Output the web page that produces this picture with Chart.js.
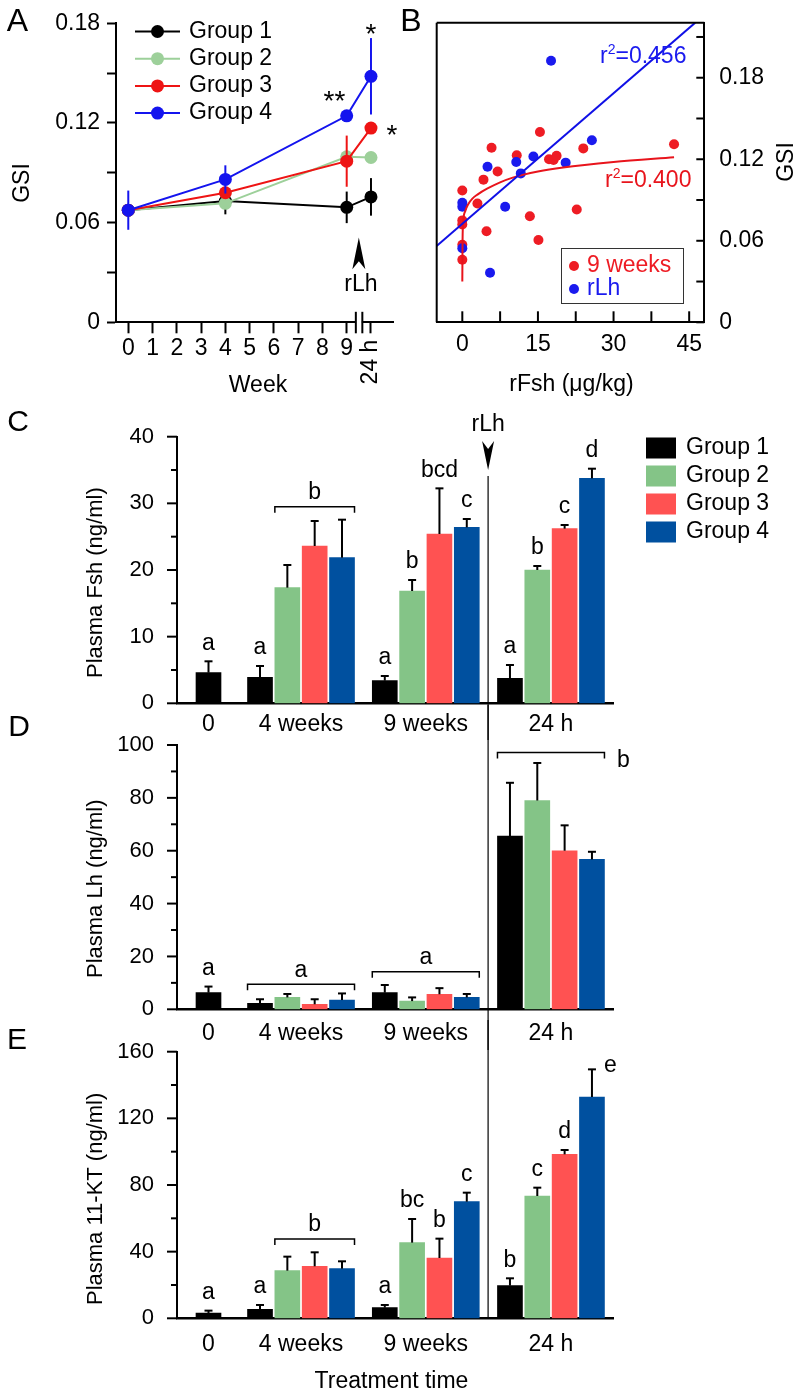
<!DOCTYPE html>
<html lang="en">
<head>
<meta charset="utf-8">
<title>GSI and plasma hormones</title>
<script src="https://cdn.jsdelivr.net/npm/chart.js@4.4.1/dist/chart.umd.min.js"></script>
<style>
  html, body { margin: 0; padding: 0; background: #fff; }
  #figure { position: relative; width: 800px; height: 1394px; overflow: hidden; }
  #figure canvas { position: absolute; left: 0; }
</style>
</head>
<body>
<div id="figure">
  <canvas id="panelA" width="800" height="400" style="top:0px"></canvas>
  <canvas id="panelB" width="800" height="400" style="top:0px"></canvas>
  <canvas id="panelC" width="800" height="370" style="top:370px"></canvas>
  <canvas id="panelD" width="800" height="345" style="top:705px"></canvas>
  <canvas id="panelE" width="800" height="374" style="top:1020px"></canvas>
</div>
<script>
// ---------- data ----------
const groupNames = ["Group 1", "Group 2", "Group 3", "Group 4"];

// A: GSI, the 24 h point sits after the axis break at x = 10
const gsiWeeks = [0, 4, 9, 10];
const gsiWeekTicks = [0, 1, 2, 3, 4, 5, 6, 7, 8, 9, 10];
const gsiTicks = [0, 0.03, 0.06, 0.09, 0.12, 0.15, 0.18];
const gsiMeans = [
  [0.0675, 0.073, 0.0692, 0.0755],
  [0.0675, 0.0716, 0.0996, 0.0992],
  [0.0675, 0.078, 0.097, 0.1169],
  [0.0675, 0.086, 0.1243, 0.1481],
];
const gsiErrors = [
  [null, 0.008, 0.0095, 0.0113],
  [null, null, null, null],
  [null, null, 0.0154, null],
  [0.0118, 0.0085, null, 0.023],
];

// B: GSI against rFsh dose
const rfsh9Weeks = [
  [0, 0.097], [0, 0.075], [0, 0.072], [0, 0.057], [0, 0.046],
  [3.0, 0.0875], [4.2, 0.105], [4.8, 0.067], [5.8, 0.1285], [7.0, 0.111],
  [10.8, 0.123], [13.4, 0.078], [15.4, 0.14], [15.1, 0.0606], [17.2, 0.12],
  [18.1, 0.1195], [18.7, 0.1225], [22.7, 0.083], [24.0, 0.128], [42.0, 0.131],
];
const rfshRlh = [
  [0, 0.088], [0, 0.085], [0, 0.0545], [5.0, 0.1145], [5.5, 0.0365],
  [8.5, 0.085], [10.7, 0.118], [11.6, 0.1096], [14.1, 0.122], [17.6, 0.1925],
  [20.5, 0.1175], [25.7, 0.134],
];
const rlhFit = [[-5.1, 0.0562], [46.2, 0.2205]];
const weeks9Fit = [
  [0, 0.03], [0.05, 0.06], [0.2, 0.075], [0.6, 0.082], [1.2, 0.087], [2, 0.091],
  [3, 0.094], [5, 0.0985], [7.5, 0.103], [10, 0.1065], [15, 0.111], [20, 0.114],
  [30, 0.118], [42, 0.1215],
];
const doseTicks = [0, 7.5, 15, 22.5, 30, 37.5, 45];
const gsiRightTicks = [0, 0.03, 0.06, 0.09, 0.12, 0.15, 0.18, 0.21];

// C-E: plasma hormones
const timeLabels = ["0", "4 weeks", "9 weeks", "24 h"];

const fshMeans = [
  [4.6, 3.9, 3.4, 3.75],
  [null, 17.35, 16.85, 20.0],
  [null, 23.6, 25.4, 26.2],
  [null, 21.85, 26.4, 33.75],
];
const fshErrors = [
  [1.7, 1.7, 0.7, 2.0],
  [null, 3.4, 1.65, 0.6],
  [null, 3.75, 6.85, 0.55],
  [null, 5.7, 1.25, 1.45],
];
const fshLetters = [
  ["a", "a", "a", "a"],
  [null, null, "b", "b"],
  [null, null, "bcd", "c"],
  [null, null, "c", "d"],
];
const fshBrackets = [{ time: 1, from: 1, to: 3, y: 29.5, letter: "b" }];
const fshTicks = [0, 5, 10, 15, 20, 25, 30, 35, 40];

const lhMeans = [
  [6.3, 2.3, 6.3, 65.5],
  [null, 4.5, 3.1, 79.0],
  [null, 1.9, 5.7, 60.0],
  [null, 3.5, 4.5, 56.7],
];
const lhErrors = [
  [2.3, 1.5, 2.9, 20.2],
  [null, 1.3, 1.4, 14.2],
  [null, 1.9, 2.3, 9.6],
  [null, 2.5, 1.3, 2.9],
];
const lhLetters = [
  ["a", null, null, null],
  [null, null, null, null],
  [null, null, null, null],
  [null, null, null, null],
];
const lhBrackets = [
  { time: 1, from: 0, to: 3, y: 9.45, letter: "a" },
  { time: 2, from: 0, to: 3, y: 14.2, letter: "a" },
  { time: 3, from: 0, to: 3, y: 97.2, letter: "b", side: true },
];
const lhTicks = [0, 10, 20, 30, 40, 50, 60, 70, 80, 90, 100];

const ktMeans = [
  [3.2, 5.4, 6.4, 19.6],
  [null, 28.6, 45.4, 73.4],
  [null, 31.2, 36.2, 98.4],
  [null, 29.8, 70.0, 132.8],
];
const ktErrors = [
  [1.4, 2.6, 1.6, 4.4],
  [null, 8.4, 14.2, 5.0],
  [null, 8.4, 11.6, 2.6],
  [null, 4.4, 5.4, 16.6],
];
const ktLetters = [
  ["a", "a", "a", "b"],
  [null, null, "bc", "c"],
  [null, null, "b", "d"],
  [null, null, "c", null],
];
const ktSideLetters = [{ time: 3, group: 3, letter: "e" }];
const ktBrackets = [{ time: 1, from: 1, to: 3, y: 47.6, letter: "b" }];
const ktTicks = [0, 20, 40, 60, 80, 100, 120, 140, 160];

// ---------- look ----------
const FONT_FAMILY = '"Liberation Sans", Arial, Helvetica, sans-serif';
const fontOf = (size) => ({ family: FONT_FAMILY, size });
const cssFont = (size) => `${size}px ${FONT_FAMILY}`;

const lineColors = ["#000000", "#9dd09a", "#ee1414", "#1414ee"];
const barColors = ["#000000", "#84c487", "#ff5252", "#00509f"];
const dotRed = "#ee1c24";
const dotBlue = "#1a1aee";

// bar geometry, in bar slots (one slot = one bar step)
const timeCenters = [0, 3.385, 7.95, 12.53];
const rlhSlot = 10.23;
const barSlot = (t, g) => (t === 0 ? timeCenters[0] : timeCenters[t] + (g - 1.5));

Chart.defaults.font.family = FONT_FAMILY;
Chart.defaults.color = "#000";

function strokeLine(ctx, x1, y1, x2, y2) {
  ctx.beginPath();
  ctx.moveTo(x1, y1);
  ctx.lineTo(x2, y2);
  ctx.stroke();
}

function drawText(ctx, str, x, y, size, opts = {}) {
  ctx.save();
  ctx.font = cssFont(size);
  ctx.fillStyle = opts.color || "#000";
  ctx.textAlign = opts.align || "center";
  ctx.textBaseline = opts.baseline || "middle";
  ctx.translate(x, y);
  if (opts.rotate) ctx.rotate(opts.rotate);
  ctx.fillText(str, 0, 0);
  ctx.restore();
}

function drawR2(ctx, value, x, baseline, color) {
  ctx.save();
  ctx.fillStyle = color;
  ctx.textAlign = "left";
  ctx.textBaseline = "alphabetic";
  ctx.font = cssFont(23);
  ctx.fillText("r", x, baseline);
  let cx = x + ctx.measureText("r").width;
  ctx.font = cssFont(14);
  ctx.fillText("2", cx, baseline - 9);
  cx += ctx.measureText("2").width;
  ctx.font = cssFont(23);
  ctx.fillText("=" + value, cx, baseline);
  ctx.restore();
}

const baseOptions = {
  responsive: false,
  animation: false,
  events: [],
  plugins: { legend: { display: false }, tooltip: { enabled: false } },
};

// ---------- A ----------
const gsiExtras = {
  id: "gsiExtras",
  afterDatasetDraw(chart, args) {
    const g = args.index;
    const { ctx, scales: { x: xs, y: ys } } = chart;
    ctx.save();
    ctx.strokeStyle = lineColors[g];
    ctx.lineWidth = 2;
    gsiWeeks.forEach((w, i) => {
      const err = gsiErrors[g][i];
      if (err == null) return;
      const px = xs.getPixelForValue(w);
      strokeLine(ctx, px, ys.getPixelForValue(gsiMeans[g][i] - err), px, ys.getPixelForValue(gsiMeans[g][i] + err));
    });
    ctx.restore();
  },
  afterDraw(chart) {
    const { ctx, scales: { x: xs, y: ys }, chartArea } = chart;
    ctx.save();

    // axis break between week 9 and 24 h
    const bx = xs.getPixelForValue(9.5);
    ctx.fillStyle = "#fff";
    ctx.fillRect(bx - 3, chartArea.bottom - 3, 6, 6);
    ctx.strokeStyle = "#000";
    ctx.lineWidth = 2;
    strokeLine(ctx, bx - 3, chartArea.bottom - 10.5, bx - 3, chartArea.bottom + 11);
    strokeLine(ctx, bx + 3.5, chartArea.bottom - 10.5, bx + 3.5, chartArea.bottom + 11);

    // legend
    groupNames.forEach((name, g) => {
      const y = 31.5 + g * 27.2;
      ctx.strokeStyle = lineColors[g];
      ctx.fillStyle = lineColors[g];
      strokeLine(ctx, 135, y, 180, y);
      ctx.beginPath();
      ctx.arc(157.5, y, 6.5, 0, Math.PI * 2);
      ctx.fill();
      drawText(ctx, name, 189, y, 23, { align: "left" });
    });

    // rLh arrow
    const ax = xs.getPixelForValue(9.5);
    const tip = ys.getPixelForValue(0.051);
    const base = ys.getPixelForValue(0.032);
    ctx.fillStyle = "#000";
    ctx.beginPath();
    ctx.moveTo(ax, tip);
    ctx.lineTo(ax + 6.5, base);
    ctx.lineTo(ax, base - 8);
    ctx.lineTo(ax - 6.5, base);
    ctx.closePath();
    ctx.fill();
    drawText(ctx, "rLh", ax + 2, base + 16, 23);

    // significance stars
    drawText(ctx, "**", 334.5, 110, 28, { baseline: "alphabetic" });
    drawText(ctx, "*", 371, 43, 28, { baseline: "alphabetic" });
    drawText(ctx, "*", 392, 144, 28, { baseline: "alphabetic" });

    // labels
    drawText(ctx, "24 h", xs.getPixelForValue(10), 362, 23, { rotate: -Math.PI / 2 });
    drawText(ctx, "Week", 258, 386, 23);
    drawText(ctx, "GSI", 22.5, 183, 23, { rotate: -Math.PI / 2 });
    drawText(ctx, "A", 17.5, 22, 32);
    ctx.restore();
  },
};

new Chart(document.getElementById("panelA"), {
  type: "line",
  data: {
    datasets: gsiMeans.map((means, g) => ({
      label: groupNames[g],
      data: gsiWeeks.map((w, i) => ({ x: w, y: means[i] })),
      borderColor: lineColors[g],
      backgroundColor: lineColors[g],
      borderWidth: 2,
      pointRadius: 6.5,
      pointBorderWidth: 0,
      order: 3 - g,
    })),
  },
  options: {
    ...baseOptions,
    layout: { padding: { left: 0, top: 23.3, right: 406.7, bottom: 0 } },
    scales: {
      x: {
        type: "linear", min: -0.506, max: 10.92, offset: false,
        afterBuildTicks: (s) => { s.ticks = gsiWeekTicks.map((value) => ({ value })); },
        afterFit: (s) => { s.height = 77.7; },
        ticks: { callback: (v) => (v === 10 ? "" : String(v)), font: fontOf(23), padding: 2, autoSkip: false, maxRotation: 0 },
        grid: { drawOnChartArea: false, tickLength: 11, tickWidth: 2, tickColor: "#000" },
        border: { color: "#000", width: 2 },
      },
      y: {
        min: 0, max: 0.18,
        afterBuildTicks: (s) => { s.ticks = gsiTicks.map((value) => ({ value })); },
        afterFit: (s) => { s.width = 116; },
        ticks: { callback: (v, i) => (i % 2 ? "" : v === 0 ? "0" : v.toFixed(2)), font: fontOf(23), padding: 7 },
        grid: { drawOnChartArea: false, tickLength: 9, tickWidth: 2, tickColor: "#000" },
        border: { color: "#000", width: 2 },
      },
    },
  },
  plugins: [gsiExtras],
});

// ---------- B ----------
const doseExtras = {
  id: "doseExtras",
  afterDraw(chart) {
    const { ctx, scales: { x: xs, y: ys }, chartArea } = chart;
    ctx.save();
    ctx.strokeStyle = "#000";
    ctx.lineWidth = 2;
    strokeLine(ctx, chartArea.left, chartArea.top, chartArea.right, chartArea.top);
    strokeLine(ctx, chartArea.left, chartArea.top, chartArea.left, chartArea.bottom);
    gsiRightTicks.forEach((v) => {
      const py = ys.getPixelForValue(v);
      strokeLine(ctx, chartArea.right - 8, py, chartArea.right, py);
    });
    doseTicks.forEach((v) => {
      const px = xs.getPixelForValue(v);
      strokeLine(ctx, px, chartArea.bottom - 11, px, chartArea.bottom);
    });

    // legend box
    ctx.lineWidth = 1;
    ctx.strokeStyle = "#333";
    ctx.strokeRect(561.5, 248.5, 122, 55);
    [["9 weeks", dotRed, 266], ["rLh", dotBlue, 289]].forEach(([name, color, y]) => {
      ctx.fillStyle = color;
      ctx.beginPath();
      ctx.arc(574, y, 5, 0, Math.PI * 2);
      ctx.fill();
      drawText(ctx, name, 587, y, 23, { align: "left", color });
    });

    drawR2(ctx, "0.456", 600, 63, dotBlue);
    drawR2(ctx, "0.400", 605, 187, "#e8141c");

    drawText(ctx, "rFsh (\u03bcg/kg)", 571.5, 385, 23);
    drawText(ctx, "GSI", 787, 162, 23, { rotate: -Math.PI / 2 });
    drawText(ctx, "B", 411, 22, 32);
    ctx.restore();
  },
};

const toPoints = (pairs) => pairs.map(([x, y]) => ({ x, y }));

new Chart(document.getElementById("panelB"), {
  type: "scatter",
  data: {
    datasets: [
      { label: "rLh fit", data: toPoints(rlhFit), showLine: true, borderColor: "#1010e6", borderWidth: 2, pointRadius: 0, order: 0 },
      { label: "9 weeks fit", data: toPoints(weeks9Fit), showLine: true, borderColor: "#e8141c", borderWidth: 2, pointRadius: 0, cubicInterpolationMode: "monotone", order: 0 },
      { label: "rLh", data: toPoints(rfshRlh), backgroundColor: dotBlue, pointRadius: 5, pointBorderWidth: 0, order: 1 },
      { label: "9 weeks", data: toPoints(rfsh9Weeks), backgroundColor: dotRed, pointRadius: 5, pointBorderWidth: 0, order: 2 },
    ],
  },
  options: {
    ...baseOptions,
    layout: { padding: { left: 436.7, top: 22.7, right: 0, bottom: 0 } },
    scales: {
      x: {
        type: "linear", min: -5.08, max: 48.0,
        afterBuildTicks: (s) => { s.ticks = doseTicks.map((value) => ({ value })); },
        afterFit: (s) => { s.height = 77.7; },
        ticks: { callback: (v) => (v % 15 === 0 ? String(v) : ""), font: fontOf(23), padding: 1, autoSkip: false, maxRotation: 0 },
        grid: { display: false },
        border: { color: "#000", width: 2 },
      },
      y: {
        position: "right", min: 0, max: 0.2205,
        afterBuildTicks: (s) => { s.ticks = gsiRightTicks.map((value) => ({ value })); },
        afterFit: (s) => { s.width = 95.7; },
        ticks: { callback: (v, i) => (i % 2 ? "" : v === 0 ? "0" : v.toFixed(2)), font: fontOf(23), padding: 7 },
        grid: { display: false },
        border: { color: "#000", width: 2 },
      },
    },
  },
  plugins: [doseExtras],
});

// ---------- C-E ----------
const RLH_LINE = { top: 476, bottom: 1318.3 };

function makeBarPanel(p) {
  const canvas = document.getElementById(p.id);
  const local = (pageY) => pageY - p.top;

  const datasets = p.means.map((row, g) => ({
    label: groupNames[g],
    data: row
      .map((v, t) => (v == null ? null : { x: barSlot(t, g), y: v, err: p.errors[g][t], letter: p.letters[g][t] }))
      .filter((d) => d !== null),
    backgroundColor: barColors[g],
    borderWidth: 0,
    barThickness: 25,
    grouped: false,
  }));

  const extras = {
    id: "barExtras",
    afterDatasetsDraw(chart) {
      const { ctx, scales: { x: xs, y: ys }, chartArea } = chart;
      ctx.save();
      ctx.strokeStyle = "#000";
      ctx.lineWidth = 2;

      p.yTicks.forEach((v) => {
        const py = ys.getPixelForValue(v);
        strokeLine(ctx, chartArea.left - (v % p.yMajor === 0 ? 10 : 6), py, chartArea.left, py);
      });

      chart.data.datasets.forEach((ds, g) => {
        const meta = chart.getDatasetMeta(g);
        ds.data.forEach((d, j) => {
          const bx = meta.data[j].x;
          const top = ys.getPixelForValue(d.y + d.err);
          ctx.lineWidth = 2;
          strokeLine(ctx, bx, ys.getPixelForValue(d.y), bx, top);
          strokeLine(ctx, bx - 4, top, bx + 4, top);
          if (d.letter) drawText(ctx, d.letter, bx, top - 18, 23);
        });
      });

      (p.sideLetters || []).forEach((s) => {
        const bx = xs.getPixelForValue(barSlot(s.time, s.group));
        const top = ys.getPixelForValue(p.means[s.group][s.time] + p.errors[s.group][s.time]);
        drawText(ctx, s.letter, bx + 18.5, top - 4, 23);
      });

      ctx.lineWidth = 1.5;
      p.brackets.forEach((b) => {
        const x1 = xs.getPixelForValue(barSlot(b.time, b.from)) - 12.5;
        const x2 = xs.getPixelForValue(barSlot(b.time, b.to)) + 12.5;
        const y = ys.getPixelForValue(b.y);
        ctx.beginPath();
        ctx.moveTo(x1, y + 6);
        ctx.lineTo(x1, y);
        ctx.lineTo(x2, y);
        ctx.lineTo(x2, y + 6);
        ctx.stroke();
        if (b.side) drawText(ctx, b.letter, x2 + 19, y + 8, 23);
        else drawText(ctx, b.letter, (x1 + x2) / 2, y - 14, 23);
      });

      // rLh injection line running through C, D and E
      const lx = xs.getPixelForValue(rlhSlot);
      ctx.lineWidth = 1.2;
      strokeLine(ctx, lx, Math.max(local(RLH_LINE.top), 0), lx, Math.min(local(RLH_LINE.bottom), canvas.height));

      drawText(ctx, p.title, 96, local(p.titleBottom), 22, { rotate: -Math.PI / 2, align: "left" });
      drawText(ctx, p.label, p.labelAt[0], local(p.labelAt[1]), 30);
      if (p.extra) p.extra(chart, ctx, local);
      ctx.restore();
    },
  };

  return new Chart(canvas, {
    type: "bar",
    data: { datasets },
    options: {
      ...baseOptions,
      layout: { padding: { left: 0, top: local(p.plotTop), right: 187, bottom: 0 } },
      scales: {
        x: {
          type: "linear", min: -1.1526, max: 14.8, offset: false,
          afterBuildTicks: (s) => { s.ticks = timeCenters.map((value) => ({ value })); },
          afterFit: (s) => { s.height = canvas.height - local(p.plotBottom); },
          ticks: { callback: (v, i) => timeLabels[i], font: fontOf(23), padding: p.labelGap, autoSkip: false, maxRotation: 0 },
          grid: { display: false },
          border: { color: "#000", width: 2.5 },
        },
        y: {
          min: 0, max: p.yTicks[p.yTicks.length - 1],
          afterBuildTicks: (s) => { s.ticks = p.yTicks.map((value) => ({ value })); },
          afterFit: (s) => { s.width = 177; },
          ticks: { callback: (v) => (v % p.yMajor === 0 ? String(v) : ""), font: fontOf(22), padding: 15 },
          grid: { display: false },
          border: { color: "#000", width: 2 },
        },
      },
    },
    plugins: [extras],
  });
}

function fshExtras(chart, ctx, local) {
  const { scales: { x: xs, y: ys } } = chart;
  const ax = xs.getPixelForValue(rlhSlot);
  const tip = ys.getPixelForValue(35.0);
  const base = ys.getPixelForValue(39.35);
  ctx.fillStyle = "#000";
  ctx.beginPath();
  ctx.moveTo(ax, tip);
  ctx.lineTo(ax + 6, base);
  ctx.lineTo(ax, base + 8);
  ctx.lineTo(ax - 6, base);
  ctx.closePath();
  ctx.fill();
  drawText(ctx, "rLh", ax, base - 16, 23);

  groupNames.forEach((name, g) => {
    const top = local(437.5 + g * 28);
    ctx.fillStyle = barColors[g];
    ctx.fillRect(646, top, 30, 21);
    drawText(ctx, name, 686, top + 10.5, 23, { align: "left" });
  });
}

function ktExtras(chart, ctx, local) {
  drawText(ctx, "Treatment time", 391.5, local(1381.7), 23);
}

makeBarPanel({
  id: "panelC", top: 370, plotTop: 436.7, plotBottom: 703.3, labelGap: 0,
  means: fshMeans, errors: fshErrors, letters: fshLetters, brackets: fshBrackets,
  yTicks: fshTicks, yMajor: 10,
  title: "Plasma Fsh (ng/ml)", titleBottom: 678, label: "C", labelAt: [18, 423],
  extra: fshExtras,
});

makeBarPanel({
  id: "panelD", top: 705, plotTop: 745, plotBottom: 1009.3, labelGap: 3,
  means: lhMeans, errors: lhErrors, letters: lhLetters, brackets: lhBrackets,
  yTicks: lhTicks, yMajor: 20,
  title: "Plasma Lh (ng/ml)", titleBottom: 978, label: "D", labelAt: [19, 728],
});

makeBarPanel({
  id: "panelE", top: 1020, plotTop: 1051.7, plotBottom: 1318.3, labelGap: 5,
  means: ktMeans, errors: ktErrors, letters: ktLetters, brackets: ktBrackets, sideLetters: ktSideLetters,
  yTicks: ktTicks, yMajor: 40,
  title: "Plasma 11-KT (ng/ml)", titleBottom: 1305, label: "E", labelAt: [17, 1041],
  extra: ktExtras,
});
</script>
</body>
</html>
